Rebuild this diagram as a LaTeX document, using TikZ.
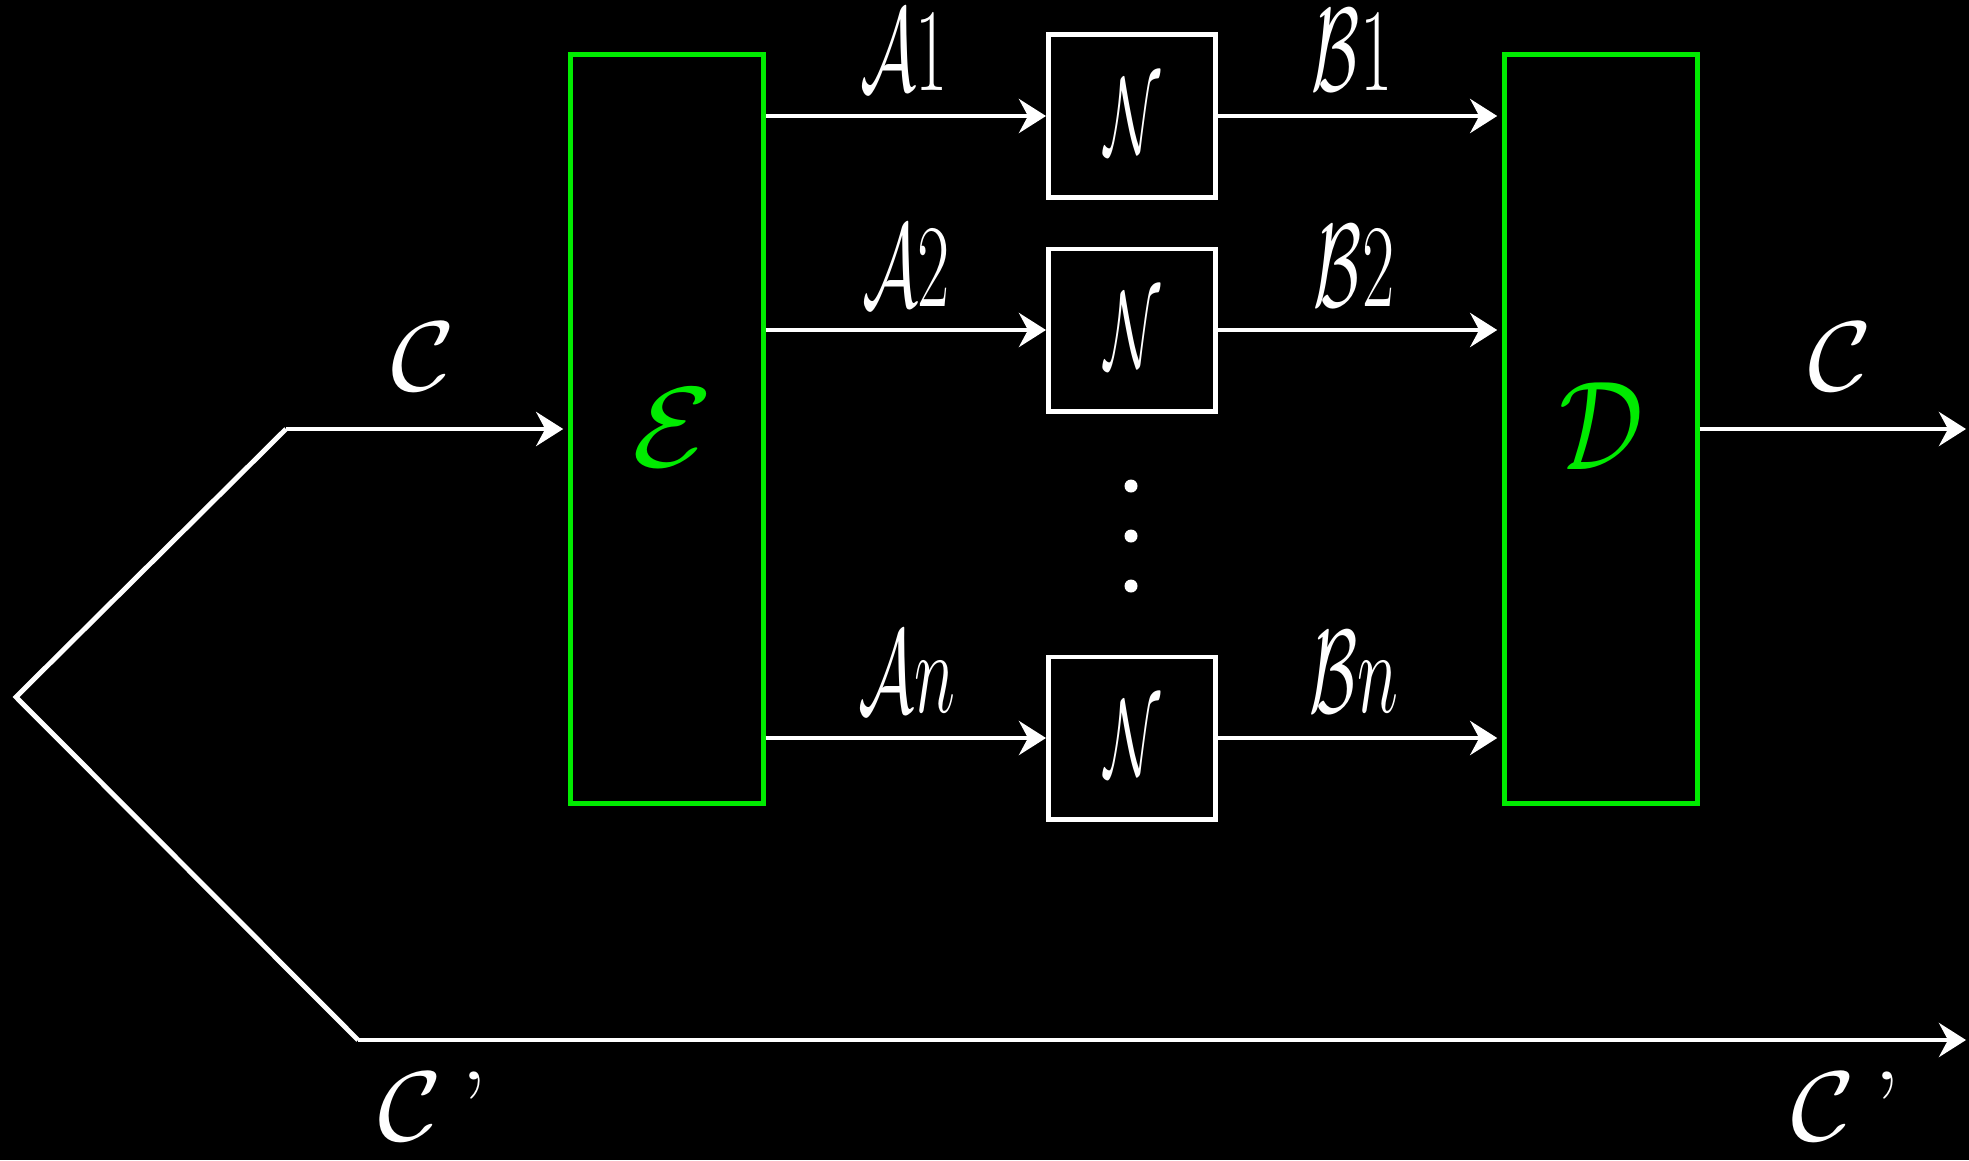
\documentclass[tikz,border=0pt]{standalone}
\usepackage{graphicx}
\usetikzlibrary{arrows.meta}
\definecolor{boxgreen}{RGB}{0,235,0}
\newcommand{\abl}[1]{\scalebox{0.8}[1.35]{#1}}
\begin{document}
\begin{tikzpicture}[x=0.01cm,y=-0.01cm,
  wire/.style={draw=white,line width=1.4pt},
  arr/.style={wire,-{Stealth[length=0.27cm,width=0.34cm,inset=0.09cm]}},
  greenbox/.style={draw=boxgreen,line width=1.4pt,minimum width=1.92cm,minimum height=7.48cm,inner sep=0pt},
  nbox/.style={draw=white,line width=1.4pt,minimum width=1.67cm,minimum height=1.62cm,inner sep=0pt,text=white,font=\Huge},
  lbl/.style={text=white,inner sep=0pt,font=\Huge,anchor=base},
  clbl/.style={text=white,inner sep=0pt,font=\Huge},
  glbl/.style={text=boxgreen,inner sep=0pt,font=\Huge},
  dot/.style={circle,fill=white,inner sep=0pt,minimum size=0.13cm}
]
\fill[black] (0,0) rectangle (1969,1160);
\useasboundingbox (0,0) rectangle (1969,1160);

% boxes
\node[greenbox] (E) at (667,429) {};
\node[greenbox] (D) at (1601,429) {};
\node[nbox] (N1) at (1132,116) {\scalebox{0.66}[1.25]{$\mathcal{N}$}};
\node[nbox] (N2) at (1132,330) {\scalebox{0.66}[1.25]{$\mathcal{N}$}};
\node[nbox] (N3) at (1132,738) {\scalebox{0.66}[1.25]{$\mathcal{N}$}};

% box letters
\node[glbl] (Elbl) at (673,428) {\scalebox{1.5}[1.3]{$\mathcal{E}$}};
\node[glbl] (Dlbl) at (1601,426) {\scalebox{1.2}[1.45]{$\mathcal{D}$}};

% dots
\node[dot] (d1) at (1131,486) {};
\node[dot] (d2) at (1131,536) {};
\node[dot] (d3) at (1131,586) {};

% connectors E -> N -> D
\draw[arr] (N1.west -| E.east) -- (N1.west);
\draw[arr] (N2.west -| E.east) -- (N2.west);
\draw[arr] (N3.west -| E.east) -- (N3.west);
\draw[arr,shorten >=1.5pt] (N1.east) -- (N1.east -| D.west);
\draw[arr,shorten >=1.5pt] (N2.east) -- (N2.east -| D.west);
\draw[arr,shorten >=1.5pt] (N3.east) -- (N3.east -| D.west);

% input / split
\coordinate (c0) at (286,429);
\coordinate (v) at (16,697);
\coordinate (c1) at (358,1040);
\coordinate (cend) at (1966,1040);
\coordinate (cout) at (1966,429);
\draw[arr,shorten >=1.5pt] (c0) -- (c0 -| E.west);
\draw[wire,line join=miter] (c0) -- (v) -- (c1);
\draw[arr] (c1) -- (cend);
\draw[arr] (D.east |- cout) -- (cout);

% labels
\node[lbl] (A1) at (904,90) {\abl{$\mathcal{A}\mathrm{1}$}};
\node[lbl] (A2) at (906,306) {\abl{$\mathcal{A}\mathrm{2}$}};
\node[lbl] (An) at (907,712) {\abl{$\mathcal{A}n$}};
\node[lbl] (B1) at (1352,90) {\abl{$\mathcal{B}\mathrm{1}$}};
\node[lbl] (B2) at (1354,306) {\abl{$\mathcal{B}\mathrm{2}$}};
\node[lbl] (Bn) at (1354,712) {\abl{$\mathcal{B}n$}};
\node[clbl] (Cl) at (423,357) {\scalebox{1.25}[1.13]{$\mathcal{C}$}};
\node[clbl] (Cr) at (1840,357) {\scalebox{1.25}[1.13]{$\mathcal{C}$}};
\node[clbl] (Cpl) at (433,1106) {\scalebox{1.25}[1.13]{$\mathcal{C}$\,'}};
\node[clbl] (Cpr) at (1846,1106) {\scalebox{1.25}[1.13]{$\mathcal{C}$\,'}};
\end{tikzpicture}
\end{document}
